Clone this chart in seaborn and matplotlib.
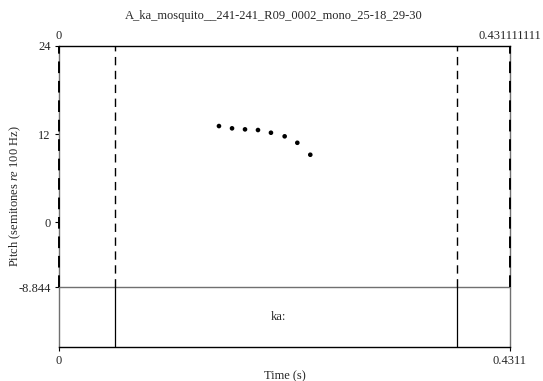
import matplotlib
matplotlib.use("Agg")
import matplotlib.pyplot as plt
import seaborn as sns
import pandas as pd

# ---- data ----
title = "A_ka_mosquito__241-241_R09_0002_mono_25-18_29-30"
t_start = 0.0
t_end = 0.4311
t_end_full = "0.431111111"
pitch_times = [0.1529, 0.1654, 0.1778, 0.1902, 0.2026, 0.2157, 0.2278, 0.2402]
pitch_st = [13.09, 12.78, 12.64, 12.55, 12.18, 11.69, 10.81, 9.18]
boundaries = [0.0535, 0.3804]
interval_label = "ka:"
y_top = 24
y_floor = -8.844
y_ticks = [-8.844, 0, 12, 24]
y_ticklabels = ["-8.844", "0", "12", "24"]

sns.set_style("white")
plt.rcParams["font.family"] = ["Liberation Serif", "DejaVu Serif"]
plt.rcParams["mathtext.fontset"] = "custom"
plt.rcParams["mathtext.it"] = "Liberation Serif:italic"
plt.rcParams["mathtext.rm"] = "Liberation Serif"

fig = plt.figure(figsize=(5.43, 3.81), dpi=100)
ax = fig.add_axes([59 / 543, 34 / 381, 451 / 543, 301 / 381])

# tier occupies 60 px below the pitch floor; pitch area 241 px for 32.844 st
tier_h = (y_top - y_floor) * 60 / 241
y_bottom = y_floor - tier_h

df = pd.DataFrame({"t": pitch_times, "p": pitch_st})
sns.scatterplot(data=df, x="t", y="p", ax=ax, color="black", s=11,
                edgecolor="none", zorder=5)

ax.set_xlim(t_start, t_end)
ax.set_ylim(y_bottom, y_top)

# separator between pitch area and tier
ax.axhline(y_floor, color="#707070", lw=1.0, zorder=3)
# dashed boundaries in pitch area
for b in [t_start, t_end] + boundaries:
    ax.plot([b, b], [y_floor, y_top], color="black", lw=1.4 if b in (t_start, t_end) else 1.0,
            ls=(0, (6, 4)), zorder=4, clip_on=False)
# solid boundaries in tier
for b in boundaries:
    ax.plot([b, b], [y_bottom, y_floor], color="black", lw=0.9, zorder=4)
ax.text((boundaries[0] + boundaries[1]) / 2 - 0.0071, (y_floor + y_bottom) / 2, interval_label,
        ha="center", va="center", fontsize=9)

for s in ["left", "right"]:
    ax.spines[s].set_color("#707070")
    ax.spines[s].set_linewidth(1.0)
for s in ["top", "bottom"]:
    ax.spines[s].set_color("black")
    ax.spines[s].set_linewidth(1.0)

ax.set_yticks(y_ticks)
ax.set_yticklabels(y_ticklabels)
ax.set_xticks([t_start, t_end])
ax.set_xticklabels(["0", "0.4311"])
ax.tick_params(axis="both", direction="out", length=3, width=0.8, color="black",
               labelsize=9, pad=3, left=True, bottom=True)

ax.set_xlabel("Time (s)", fontsize=9, labelpad=2)
ax.set_ylabel(r"Pitch (semitones $\it{re}$ 100 Hz)", fontsize=9)
ax.yaxis.set_label_coords((23 - 59) / 451, 0.5)

ax.text(t_start, 1.012, "0", transform=ax.get_xaxis_transform(), ha="center",
        va="bottom", fontsize=9)
ax.text(t_end, 1.012, t_end_full, transform=ax.get_xaxis_transform(), ha="center",
        va="bottom", fontsize=9)
fig.text(273.5 / 543, 1 - 16 / 381, title, ha="center", va="center", fontsize=9)

fig.savefig("out.png", dpi=100)
